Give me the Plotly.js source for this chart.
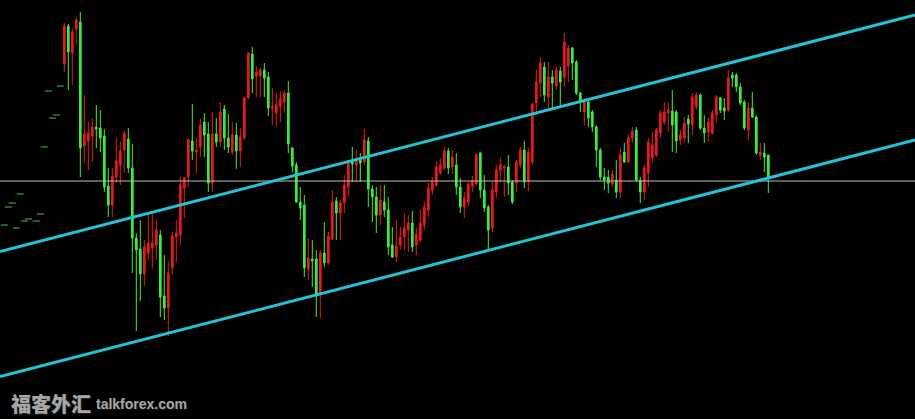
<!DOCTYPE html>
<html>
<head>
<meta charset="utf-8">
<script src="https://cdn.plot.ly/plotly-3.0.1.min.js"></script>
<style>
  html, body { margin: 0; padding: 0; background: #000; }
  #chart { width: 915px; height: 419px; }
</style>
</head>
<body>
<div id="chart"></div>
<script>
// Bar index for each candle (one bar per period)
const barIndex = Array.from({ length: 177 }, (_, i) => i);

const openPrices = [
  936, 974, 947, 971, 978, 854, 859, 864, 873, 872,
  864, 814, 795, 823, 835, 850, 861, 832, 762, 751,
  726, 747, 752, 755, 765, 704, 692, 732, 763, 765,
  812, 823, 859, 848, 853, 878, 866, 817, 866, 858,
  891, 862, 848, 865, 849, 862, 902, 946, 924, 924,
  930, 923, 892, 887, 894, 898, 907, 852, 835, 798,
  795, 731, 741, 741, 705, 747, 737, 761, 799, 787,
  797, 813, 838, 835, 842, 838, 859, 811, 803, 785,
  798, 790, 755, 743, 755, 763, 770, 777, 755, 760,
  775, 790, 810, 815, 827, 832, 849, 833, 835, 813,
  793, 798, 814, 816, 847, 810, 793, 772, 808, 830,
  832, 833, 818, 817, 835, 850, 818, 838, 897, 917,
  933, 903, 923, 914, 929, 923, 934, 952, 938, 907,
  888, 898, 888, 873, 850, 823, 823, 816, 820, 808,
  848, 838, 862, 870, 820, 808, 827, 842, 845, 867,
  878, 887, 889, 888, 860, 862, 881, 875, 893, 905,
  872, 868, 867, 885, 902, 892, 890, 925, 925, 913,
  898, 870, 892, 883, 845, 847, 845
];
const highPrices = [
  977, 976, 972, 983, 988, 905, 878, 882, 895, 890,
  871, 832, 832, 862, 858, 869, 872, 856, 767, 780,
  760, 787, 788, 780, 770, 745, 738, 768, 780, 823,
  823, 862, 896, 862, 881, 887, 878, 888, 882, 898,
  895, 886, 878, 877, 872, 903, 948, 953, 934, 932,
  937, 928, 912, 907, 909, 910, 919, 853, 838, 813,
  805, 762, 760, 750, 750, 778, 768, 810, 803, 800,
  825, 840, 853, 850, 847, 871, 863, 815, 813, 815,
  815, 803, 773, 780, 773, 787, 785, 789, 772, 790,
  798, 817, 823, 839, 842, 853, 852, 850, 847, 822,
  808, 818, 824, 847, 848, 825, 795, 818, 835, 843,
  835, 845, 820, 840, 853, 859, 852, 897, 930, 943,
  938, 938, 930, 933, 933, 967, 955, 953, 940, 908,
  902, 900, 890, 875, 852, 832, 830, 830, 840, 852,
  857, 865, 873, 873, 823, 835, 862, 868, 872, 890,
  898, 897, 910, 890, 870, 883, 885, 907, 908, 907,
  885, 882, 890, 905, 903, 902, 930, 928, 927, 917,
  900, 898, 908, 885, 857, 857, 845
];
const lowPrices = [
  928, 910, 915, 955, 823, 837, 830, 838, 852, 848,
  808, 783, 783, 817, 815, 827, 827, 727, 669, 699,
  714, 740, 732, 740, 683, 680, 664, 725, 738, 755,
  782, 813, 840, 827, 843, 843, 808, 808, 853, 853,
  850, 847, 845, 831, 833, 860, 901, 907, 903, 903,
  903, 884, 875, 873, 878, 887, 847, 828, 797, 780,
  723, 720, 713, 683, 682, 733, 735, 760, 760, 760,
  787, 803, 818, 818, 818, 835, 793, 778, 767, 775,
  783, 745, 742, 738, 750, 750, 748, 748, 745, 757,
  770, 783, 805, 813, 825, 830, 826, 826, 805, 787,
  782, 793, 808, 815, 802, 788, 750, 768, 802, 818,
  803, 805, 796, 808, 832, 812, 809, 835, 885, 903,
  898, 890, 890, 910, 895, 913, 918, 920, 905, 888,
  875, 873, 868, 833, 820, 810, 807, 813, 802, 802,
  837, 837, 857, 818, 797, 800, 813, 837, 843, 862,
  875, 868, 848, 847, 855, 857, 857, 865, 890, 870,
  857, 858, 865, 877, 887, 880, 888, 913, 908, 895,
  870, 860, 882, 845, 840, 828, 807
];
const closePrices = [
  974, 948, 968, 980, 852, 866, 867, 873, 871, 862,
  813, 795, 824, 839, 849, 867, 832, 762, 750, 726,
  753, 757, 757, 770, 703, 692, 727, 764, 767, 815,
  822, 860, 849, 850, 875, 865, 817, 866, 858, 888,
  862, 853, 865, 849, 863, 902, 947, 921, 928, 930,
  922, 892, 894, 895, 901, 907, 856, 834, 798, 792,
  732, 742, 739, 705, 747, 737, 764, 798, 787, 797,
  815, 837, 836, 840, 837, 860, 811, 803, 785, 800,
  790, 753, 743, 754, 763, 772, 777, 753, 766, 777,
  793, 812, 818, 833, 835, 849, 832, 843, 813, 793,
  802, 816, 819, 845, 810, 792, 770, 810, 830, 835,
  833, 817, 798, 838, 850, 818, 848, 896, 918, 937,
  905, 923, 917, 930, 918, 958, 952, 937, 907, 898,
  898, 882, 873, 850, 823, 820, 817, 826, 808, 845,
  838, 862, 869, 820, 808, 832, 858, 855, 870, 887,
  888, 890, 875, 859, 865, 877, 876, 903, 905, 872,
  867, 878, 887, 903, 890, 889, 922, 922, 913, 897,
  872, 892, 883, 847, 848, 843, 822
];

// Sparse leftover indicator readings on the oldest bars
const dotIndex  = [-4, -1, -3, -2, -5, -11, -13, -14, -6, -7, -9, -10, -12, -15];
const dotValues = [909, 914, 882, 885, 853, 806, 797, 793, 786, 779, 781, 779, 772, 775];

// Rising channel: anchor values at the first and last bar
const channelAnchorBars = [0, 176];
const upperChannel = [765, 947];
const lowerChannel = [640, 822];
const priceLevel = 819;

const viewBars = [-16.075, 212.675];
const viewPrices = [581, 1000];

// Extend a two-point trendline across the whole visible range
function extendLine(vals) {
  const slope = (vals[1] - vals[0]) / (channelAnchorBars[1] - channelAnchorBars[0]);
  return viewBars.map(b => vals[0] + slope * (b - channelAnchorBars[0]));
}

const RED = '#ea1a1e';
const GREEN = '#3af03a';
const CYAN = '#22c3d4';

const traces = [
  {
    type: 'scatter', mode: 'lines',
    x: viewBars, y: [priceLevel, priceLevel],
    line: { color: '#bdbdbd', width: 1 },
    hoverinfo: 'skip'
  },
  {
    type: 'scatter', mode: 'markers',
    x: dotIndex, y: dotValues,
    marker: { symbol: 'line-ew', size: 5, color: '#48c048', line: { color: '#48c048', width: 1 } },
    hoverinfo: 'skip'
  },
  {
    type: 'candlestick',
    x: barIndex,
    open: openPrices, high: highPrices, low: lowPrices, close: closePrices,
    increasing: { line: { color: RED, width: 1 }, fillcolor: RED },
    decreasing: { line: { color: GREEN, width: 1 }, fillcolor: GREEN },
    whiskerwidth: 0,
    hoverinfo: 'skip'
  },
  {
    type: 'scatter', mode: 'lines',
    x: viewBars, y: extendLine(upperChannel),
    line: { color: CYAN, width: 3 },
    hoverinfo: 'skip'
  },
  {
    type: 'scatter', mode: 'lines',
    x: viewBars, y: extendLine(lowerChannel),
    line: { color: CYAN, width: 3 },
    hoverinfo: 'skip'
  }
];

const layout = {
  width: 915, height: 419,
  margin: { l: 0, r: 0, t: 0, b: 0, pad: 0 },
  paper_bgcolor: '#000000',
  plot_bgcolor: '#000000',
  showlegend: false,
  hovermode: false,
  boxgap: 0.4,
  xaxis: {
    range: viewBars, visible: false, showgrid: false, zeroline: false,
    rangeslider: { visible: false }, fixedrange: true
  },
  yaxis: {
    range: viewPrices, visible: false, showgrid: false, zeroline: false, fixedrange: true
  },
  annotations: [
    {
      xref: 'paper', yref: 'paper', x: 9 / 915, y: 0.038,
      xanchor: 'left', yanchor: 'middle', showarrow: false,
      text: '福客外汇',
      font: { family: 'Noto Sans CJK SC', size: 20, weight: 900, color: '#a6a6a6', shadow: '1px 1px 1px #222' }
    },
    {
      xref: 'paper', yref: 'paper', x: 94 / 915, y: 0.036,
      xanchor: 'left', yanchor: 'middle', showarrow: false,
      text: 'talkforex.com',
      font: { family: 'Liberation Sans, Arial, sans-serif', size: 14, weight: 'bold', color: '#a6a6a6', shadow: '1px 1px 1px #222' }
    }
  ]
};

Plotly.newPlot('chart', traces, layout, { staticPlot: true, displayModeBar: false });
</script>
</body>
</html>
